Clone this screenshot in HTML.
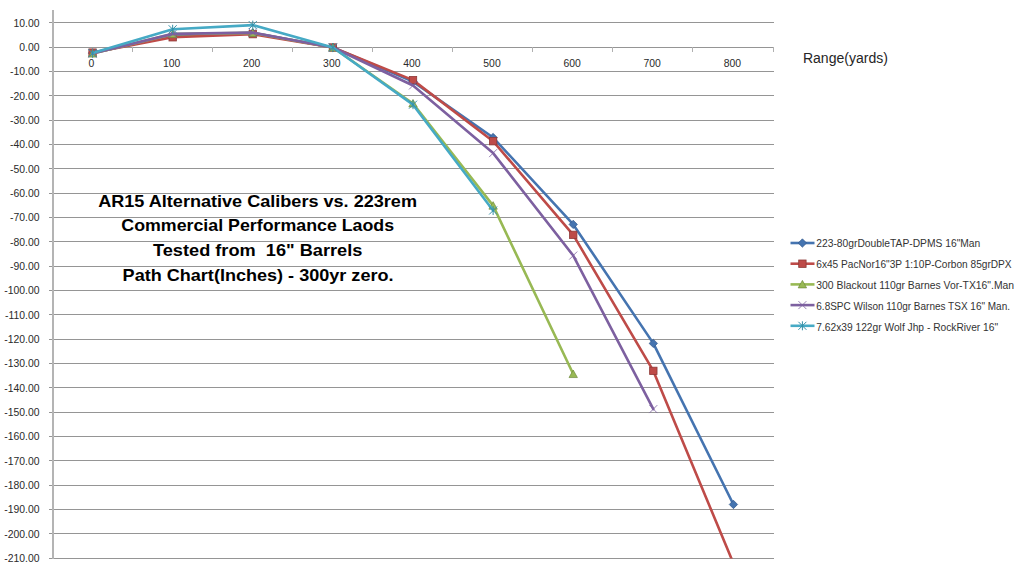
<!DOCTYPE html>
<html><head><meta charset="utf-8"><title>AR15 Alternative Calibers Path Chart</title>
<style>
html,body{margin:0;padding:0;background:#fff;}
body{width:1024px;height:568px;overflow:hidden;}
svg{display:block;font-family:"Liberation Sans",sans-serif;}
</style></head><body>
<svg width="1024" height="568" viewBox="0 0 1024 568">
<rect width="1024" height="568" fill="#fff"/>

<g stroke="#959595" stroke-width="1" shape-rendering="crispEdges"><line x1="49" y1="22.5" x2="773.5" y2="22.5"/><line x1="49" y1="47.5" x2="773.5" y2="47.5"/><line x1="49" y1="71.5" x2="773.5" y2="71.5"/><line x1="49" y1="95.5" x2="773.5" y2="95.5"/><line x1="49" y1="120.5" x2="773.5" y2="120.5"/><line x1="49" y1="144.5" x2="773.5" y2="144.5"/><line x1="49" y1="168.5" x2="773.5" y2="168.5"/><line x1="49" y1="193.5" x2="773.5" y2="193.5"/><line x1="49" y1="217.5" x2="773.5" y2="217.5"/><line x1="49" y1="241.5" x2="773.5" y2="241.5"/><line x1="49" y1="266.5" x2="773.5" y2="266.5"/><line x1="49" y1="290.5" x2="773.5" y2="290.5"/><line x1="49" y1="314.5" x2="773.5" y2="314.5"/><line x1="49" y1="339.5" x2="773.5" y2="339.5"/><line x1="49" y1="363.5" x2="773.5" y2="363.5"/><line x1="49" y1="387.5" x2="773.5" y2="387.5"/><line x1="49" y1="412.5" x2="773.5" y2="412.5"/><line x1="49" y1="436.5" x2="773.5" y2="436.5"/><line x1="49" y1="460.5" x2="773.5" y2="460.5"/><line x1="49" y1="485.5" x2="773.5" y2="485.5"/><line x1="49" y1="509.5" x2="773.5" y2="509.5"/><line x1="49" y1="533.5" x2="773.5" y2="533.5"/><line x1="49" y1="558.5" x2="773.5" y2="558.5"/>
</g><line x1="53" y1="10" x2="53" y2="559" stroke="#b4b4b4" stroke-width="2" shape-rendering="crispEdges"/><g stroke="#b0b0b0" stroke-width="1" shape-rendering="crispEdges">
<line x1="132.5" y1="47" x2="132.5" y2="52"/>
<line x1="212.5" y1="47" x2="212.5" y2="52"/>
<line x1="292.5" y1="47" x2="292.5" y2="52"/>
<line x1="372.5" y1="47" x2="372.5" y2="52"/>
<line x1="452.5" y1="47" x2="452.5" y2="52"/>
<line x1="532.5" y1="47" x2="532.5" y2="52"/>
<line x1="612.5" y1="47" x2="612.5" y2="52"/>
<line x1="692.5" y1="47" x2="692.5" y2="52"/>
<line x1="773.5" y1="47" x2="773.5" y2="52"/>
</g>
<g font-size="10.4" fill="#2a2a2a"><text x="39.5" y="26.77" text-anchor="end">10.00</text><text x="39.5" y="51.10" text-anchor="end">0.00</text><text x="39.5" y="75.43" text-anchor="end">-10.00</text><text x="39.5" y="99.77" text-anchor="end">-20.00</text><text x="39.5" y="124.10" text-anchor="end">-30.00</text><text x="39.5" y="148.43" text-anchor="end">-40.00</text><text x="39.5" y="172.77" text-anchor="end">-50.00</text><text x="39.5" y="197.10" text-anchor="end">-60.00</text><text x="39.5" y="221.43" text-anchor="end">-70.00</text><text x="39.5" y="245.77" text-anchor="end">-80.00</text><text x="39.5" y="270.10" text-anchor="end">-90.00</text><text x="39.5" y="294.43" text-anchor="end">-100.00</text><text x="39.5" y="318.77" text-anchor="end">-110.00</text><text x="39.5" y="343.10" text-anchor="end">-120.00</text><text x="39.5" y="367.43" text-anchor="end">-130.00</text><text x="39.5" y="391.77" text-anchor="end">-140.00</text><text x="39.5" y="416.10" text-anchor="end">-150.00</text><text x="39.5" y="440.43" text-anchor="end">-160.00</text><text x="39.5" y="464.77" text-anchor="end">-170.00</text><text x="39.5" y="489.10" text-anchor="end">-180.00</text><text x="39.5" y="513.43" text-anchor="end">-190.00</text><text x="39.5" y="537.77" text-anchor="end">-200.00</text><text x="39.5" y="562.10" text-anchor="end">-210.00</text>
<text x="91.46" y="66.9" text-anchor="middle">0</text>
<text x="171.57" y="66.9" text-anchor="middle">100</text>
<text x="251.68" y="66.9" text-anchor="middle">200</text>
<text x="331.79" y="66.9" text-anchor="middle">300</text>
<text x="411.90" y="66.9" text-anchor="middle">400</text>
<text x="492.01" y="66.9" text-anchor="middle">500</text>
<text x="572.12" y="66.9" text-anchor="middle">600</text>
<text x="652.23" y="66.9" text-anchor="middle">700</text>
<text x="732.34" y="66.9" text-anchor="middle">800</text>
</g>
<clipPath id="pc"><rect x="53" y="10" width="721" height="548.5"/></clipPath>
<g clip-path="url(#pc)">
<polyline points="92.56,53.10 172.67,35.33 252.78,32.90 332.89,47.50 413.00,81.57 493.11,137.53 573.22,224.40 653.33,343.39 733.44,504.48" fill="none" stroke="#4574b0" stroke-width="2.6" stroke-linejoin="round" stroke-linecap="round"/>
<path d="M92.56 48.90L96.76 53.10L92.56 57.30L88.36 53.10Z" fill="#4574b0" stroke="#34588a" stroke-width="0.7"/>
<path d="M172.67 31.13L176.87 35.33L172.67 39.53L168.47 35.33Z" fill="#4574b0" stroke="#34588a" stroke-width="0.7"/>
<path d="M252.78 28.70L256.98 32.90L252.78 37.10L248.58 32.90Z" fill="#4574b0" stroke="#34588a" stroke-width="0.7"/>
<path d="M332.89 43.30L337.09 47.50L332.89 51.70L328.69 47.50Z" fill="#4574b0" stroke="#34588a" stroke-width="0.7"/>
<path d="M413.00 77.37L417.20 81.57L413.00 85.77L408.80 81.57Z" fill="#4574b0" stroke="#34588a" stroke-width="0.7"/>
<path d="M493.11 133.33L497.31 137.53L493.11 141.73L488.91 137.53Z" fill="#4574b0" stroke="#34588a" stroke-width="0.7"/>
<path d="M573.22 220.20L577.42 224.40L573.22 228.60L569.02 224.40Z" fill="#4574b0" stroke="#34588a" stroke-width="0.7"/>
<path d="M653.33 339.19L657.53 343.39L653.33 347.59L649.13 343.39Z" fill="#4574b0" stroke="#34588a" stroke-width="0.7"/>
<path d="M733.44 500.28L737.64 504.48L733.44 508.68L729.24 504.48Z" fill="#4574b0" stroke="#34588a" stroke-width="0.7"/>
<polyline points="92.56,52.61 172.67,37.28 252.78,34.12 332.89,47.50 413.00,80.11 493.11,141.18 573.22,234.87 653.33,370.89 733.44,563.37" fill="none" stroke="#be4b48" stroke-width="2.6" stroke-linejoin="round" stroke-linecap="round"/>
<rect x="88.86" y="48.91" width="7.4" height="7.4" fill="#be4b48" stroke="#8e3a38" stroke-width="0.8"/>
<rect x="168.97" y="33.58" width="7.4" height="7.4" fill="#be4b48" stroke="#8e3a38" stroke-width="0.8"/>
<rect x="249.08" y="30.42" width="7.4" height="7.4" fill="#be4b48" stroke="#8e3a38" stroke-width="0.8"/>
<rect x="329.19" y="43.80" width="7.4" height="7.4" fill="#be4b48" stroke="#8e3a38" stroke-width="0.8"/>
<rect x="409.30" y="76.41" width="7.4" height="7.4" fill="#be4b48" stroke="#8e3a38" stroke-width="0.8"/>
<rect x="489.41" y="137.48" width="7.4" height="7.4" fill="#be4b48" stroke="#8e3a38" stroke-width="0.8"/>
<rect x="569.52" y="231.17" width="7.4" height="7.4" fill="#be4b48" stroke="#8e3a38" stroke-width="0.8"/>
<rect x="649.63" y="367.19" width="7.4" height="7.4" fill="#be4b48" stroke="#8e3a38" stroke-width="0.8"/>
<polyline points="92.56,53.58 172.67,34.12 252.78,32.90 332.89,47.50 413.00,103.47 493.11,205.67 573.22,374.05" fill="none" stroke="#98b954" stroke-width="2.6" stroke-linejoin="round" stroke-linecap="round"/>
<path d="M92.56 49.58L96.76 57.08L88.36 57.08Z" fill="#98b954" stroke="#6f8a3c" stroke-width="0.7"/>
<path d="M172.67 30.12L176.87 37.62L168.47 37.62Z" fill="#98b954" stroke="#6f8a3c" stroke-width="0.7"/>
<path d="M252.78 28.90L256.98 36.40L248.58 36.40Z" fill="#98b954" stroke="#6f8a3c" stroke-width="0.7"/>
<path d="M332.89 43.50L337.09 51.00L328.69 51.00Z" fill="#98b954" stroke="#6f8a3c" stroke-width="0.7"/>
<path d="M413.00 99.47L417.20 106.97L408.80 106.97Z" fill="#98b954" stroke="#6f8a3c" stroke-width="0.7"/>
<path d="M493.11 201.67L497.31 209.17L488.91 209.17Z" fill="#98b954" stroke="#6f8a3c" stroke-width="0.7"/>
<path d="M573.22 370.05L577.42 377.55L569.02 377.55Z" fill="#98b954" stroke="#6f8a3c" stroke-width="0.7"/>
<polyline points="92.56,53.58 172.67,33.87 252.78,32.66 332.89,47.50 413.00,85.46 493.11,153.11 573.22,255.55 653.33,409.09" fill="none" stroke="#7d60a0" stroke-width="2.6" stroke-linejoin="round" stroke-linecap="round"/>
<path d="M88.56 49.58L96.56 57.58M96.56 49.58L88.56 57.58" stroke="#7d60a0" stroke-width="1" fill="none" opacity="0.8"/>
<path d="M168.67 29.87L176.67 37.87M176.67 29.87L168.67 37.87" stroke="#7d60a0" stroke-width="1" fill="none" opacity="0.8"/>
<path d="M248.78 28.66L256.78 36.66M256.78 28.66L248.78 36.66" stroke="#7d60a0" stroke-width="1" fill="none" opacity="0.8"/>
<path d="M328.89 43.50L336.89 51.50M336.89 43.50L328.89 51.50" stroke="#7d60a0" stroke-width="1" fill="none" opacity="0.8"/>
<path d="M409.00 81.46L417.00 89.46M417.00 81.46L409.00 89.46" stroke="#7d60a0" stroke-width="1" fill="none" opacity="0.8"/>
<path d="M489.11 149.11L497.11 157.11M497.11 149.11L489.11 157.11" stroke="#7d60a0" stroke-width="1" fill="none" opacity="0.8"/>
<path d="M569.22 251.55L577.22 259.55M577.22 251.55L569.22 259.55" stroke="#7d60a0" stroke-width="1" fill="none" opacity="0.8"/>
<path d="M649.33 405.09L657.33 413.09M657.33 405.09L649.33 413.09" stroke="#7d60a0" stroke-width="1" fill="none" opacity="0.8"/>
<polyline points="92.56,53.10 172.67,29.25 252.78,25.11 332.89,47.50 413.00,104.68 493.11,210.53" fill="none" stroke="#46aac5" stroke-width="2.6" stroke-linejoin="round" stroke-linecap="round"/>
<path d="M88.56 49.10L96.56 57.10M96.56 49.10L88.56 57.10M92.56 48.60L92.56 57.60" stroke="#3590a8" stroke-width="1" fill="none"/>
<path d="M168.67 25.25L176.67 33.25M176.67 25.25L168.67 33.25M172.67 24.75L172.67 33.75" stroke="#3590a8" stroke-width="1" fill="none"/>
<path d="M248.78 21.11L256.78 29.11M256.78 21.11L248.78 29.11M252.78 20.61L252.78 29.61" stroke="#3590a8" stroke-width="1" fill="none"/>
<path d="M328.89 43.50L336.89 51.50M336.89 43.50L328.89 51.50M332.89 43.00L332.89 52.00" stroke="#3590a8" stroke-width="1" fill="none"/>
<path d="M409.00 100.68L417.00 108.68M417.00 100.68L409.00 108.68M413.00 100.18L413.00 109.18" stroke="#3590a8" stroke-width="1" fill="none"/>
<path d="M489.11 206.53L497.11 214.53M497.11 206.53L489.11 214.53M493.11 206.03L493.11 215.03" stroke="#3590a8" stroke-width="1" fill="none"/>
</g>
<g font-size="17.3" font-weight="bold" fill="#000">
<text x="98.2" y="206.6" textLength="318.8" lengthAdjust="spacingAndGlyphs" xml:space="preserve">AR15 Alternative Calibers vs. 223rem</text>
<text x="121.3" y="231.1" textLength="272.8" lengthAdjust="spacingAndGlyphs" xml:space="preserve">Commercial Performance Laods</text>
<text x="153.0" y="256.0" textLength="209.4" lengthAdjust="spacingAndGlyphs" xml:space="preserve">Tested from  16&quot; Barrels</text>
<text x="122.6" y="281.2" textLength="270.9" lengthAdjust="spacingAndGlyphs" xml:space="preserve">Path Chart(Inches) - 300yr zero.</text>
</g>
<text x="802.9" y="62.8" font-size="15.3" fill="#262626" textLength="85.1" lengthAdjust="spacingAndGlyphs">Range(yards)</text>
<g font-size="10.3" fill="#333">
<line x1="790.5" y1="243.0" x2="814.5" y2="243.0" stroke="#4574b0" stroke-width="2.6"/>
<path d="M802.40 238.80L806.60 243.00L802.40 247.20L798.20 243.00Z" fill="#4574b0" stroke="#34588a" stroke-width="0.7"/>
<text x="816.3" y="246.70" textLength="164.0" lengthAdjust="spacingAndGlyphs">223-80grDoubleTAP-DPMS 16&quot;Man</text>
<line x1="790.5" y1="263.7" x2="814.5" y2="263.7" stroke="#be4b48" stroke-width="2.6"/>
<rect x="798.70" y="260.00" width="7.4" height="7.4" fill="#be4b48" stroke="#8e3a38" stroke-width="0.8"/>
<text x="816.3" y="267.75" textLength="195.3" lengthAdjust="spacingAndGlyphs">6x45 PacNor16&quot;3P 1:10P-Corbon 85grDPX</text>
<line x1="790.5" y1="284.4" x2="814.5" y2="284.4" stroke="#98b954" stroke-width="2.6"/>
<path d="M802.40 280.40L806.60 287.90L798.20 287.90Z" fill="#98b954" stroke="#6f8a3c" stroke-width="0.7"/>
<text x="816.3" y="288.80" textLength="197.8" lengthAdjust="spacingAndGlyphs">300 Blackout 110gr Barnes Vor-TX16&quot;.Man</text>
<line x1="790.5" y1="305.1" x2="814.5" y2="305.1" stroke="#7d60a0" stroke-width="2.6"/>
<path d="M798.40 301.10L806.40 309.10M806.40 301.10L798.40 309.10" stroke="#7d60a0" stroke-width="1" fill="none" opacity="0.8"/>
<text x="816.3" y="309.85" textLength="193.7" lengthAdjust="spacingAndGlyphs">6.8SPC Wilson 110gr Barnes TSX 16&quot; Man.</text>
<line x1="790.5" y1="325.8" x2="814.5" y2="325.8" stroke="#46aac5" stroke-width="2.6"/>
<path d="M798.40 321.80L806.40 329.80M806.40 321.80L798.40 329.80M802.40 321.30L802.40 330.30" stroke="#3590a8" stroke-width="1" fill="none"/>
<text x="816.3" y="330.90" textLength="181.8" lengthAdjust="spacingAndGlyphs">7.62x39 122gr Wolf Jhp - RockRiver 16&quot;</text>
</g>
</svg></body></html>
